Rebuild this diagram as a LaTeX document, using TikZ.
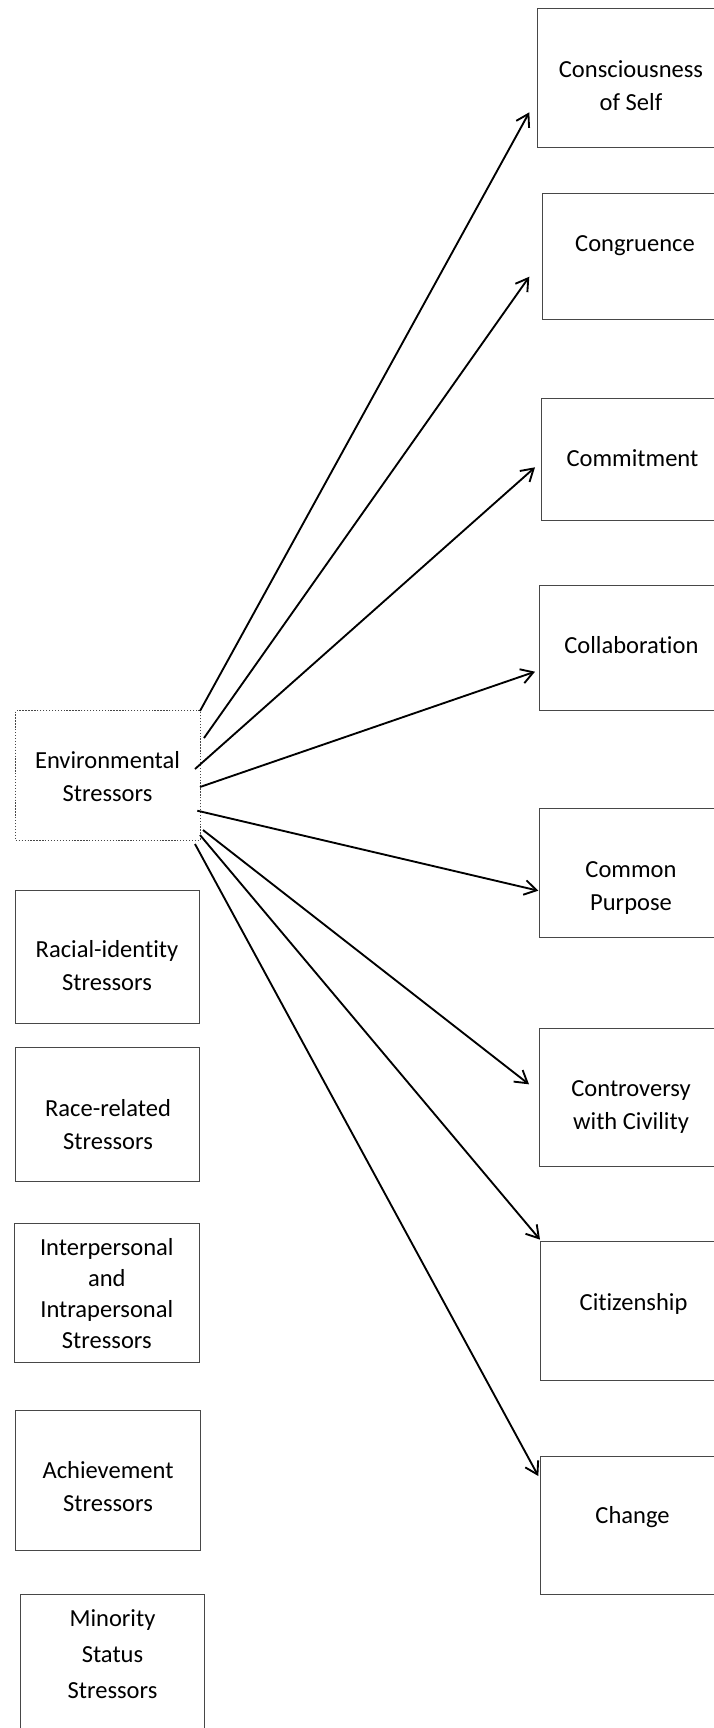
\documentclass[tikz,border=0pt]{standalone}
\usepackage{fontspec}
\setmainfont{Carlito}[Ligatures=NoCommon]
\usetikzlibrary{arrows.meta}
\begin{document}
\begin{tikzpicture}[x=0.75pt,y=-0.75pt,
  box/.style={draw=black!72,line width=0.75pt,inner sep=0pt,rectangle},
  dotbox/.style={box,dash pattern=on 1pt off 1.2pt},
  lbl/.style={inner sep=0pt,anchor=north,align=center,
    font=\fontsize{18.4pt}{24.75pt}\selectfont},
  arr/.style={line width=1.4pt,-{Straight Barb[length=9pt,width=11pt,line width=1.4pt]}}]
\useasboundingbox (0,0) rectangle (714,1728);

% outcome boxes on the right (they run past the right margin)
\node[box,minimum width=141pt,minimum height=104.25pt] (r1) at (631,77.5) {};
\node[box,minimum width=137.25pt,minimum height=94.5pt] (r2) at (633.5,256) {};
\node[box,minimum width=138pt,minimum height=91.5pt] (r3) at (633,459) {};
\node[box,minimum width=139.5pt,minimum height=94.2pt] (r4) at (632,648) {};
\node[box,minimum width=139.5pt,minimum height=96.75pt] (r5) at (632,873) {};
\node[box,minimum width=139.5pt,minimum height=103.5pt] (r6) at (632,1097) {};
\node[box,minimum width=138.75pt,minimum height=104.25pt] (r7) at (632.5,1311) {};
\node[box,minimum width=138.75pt,minimum height=103.5pt] (r8) at (632.5,1525) {};

\node[lbl] (t1) at (631,54.2) {\strut Consciousness\\of Self};
\node[lbl] (t2) at (635,227.9) {\strut Congruence};
\node[lbl] (t3) at (632.5,442.9) {\strut Commitment};
\node[lbl] (t4) at (631.4,629.9) {\strut Collaboration};
\node[lbl] (t5) at (631,853.9) {\strut Common\\Purpose};
\node[lbl] (t6) at (631,1072.9) {\strut Controversy\\with Civility};
\node[lbl] (t7) at (633.6,1286.9) {\strut Citizenship};
\node[lbl] (t8) at (632.5,1499.9) {\strut Change};

% stressor boxes on the left
\node[dotbox,minimum width=138.2pt,minimum height=97pt] (env) at (107.9,775.4) {};
\node[box,minimum width=138pt,minimum height=100pt] (l2) at (107.4,957) {};
\node[box,minimum width=138pt,minimum height=100pt] (l3) at (107.4,1114.5) {};
\node[box,minimum width=138.5pt,minimum height=104.5pt] (l4) at (106.7,1293) {};
\node[box,minimum width=138.75pt,minimum height=105pt] (l5) at (108,1480.4) {};
\node[box,minimum width=137.7pt,minimum height=109.5pt] (l6) at (112.5,1667) {};

\node[lbl] (s1) at (107.5,745.2) {\strut Environmental\\Stressors};
\node[lbl] (s2) at (107,933.9) {\strut Racial-identity\\Stressors};
\node[lbl] (s3) at (108,1092.9) {\strut Race-related\\Stressors};
\node[lbl,font=\fontsize{18.4pt}{23.25pt}\selectfont] (s4) at (106.8,1233.3)
  {\strut Interpersonal\\and\\Intrapersonal\\Stressors};
\node[lbl] (s5) at (108,1455.4) {\strut Achievement\\Stressors};
\node[lbl,font=\fontsize{18.4pt}{27pt}\selectfont] (s6) at (112.5,1601.5)
  {\strut Minority\\Status\\Stressors};

% arrow ends
\coordinate (a1) at (200,711);   \coordinate (b1) at (529.3,112.3);
\coordinate (a2) at (204,738);   \coordinate (b2) at (529.3,276.7);
\coordinate (a3) at (195,769);   \coordinate (b3) at (535,467.3);
\coordinate (a4) at (200,787);   \coordinate (b4) at (535,671.7);
\coordinate (a5) at (197.3,810.7); \coordinate (b5) at (538.3,890.7);
\coordinate (a6) at (203,830);   \coordinate (b6) at (529,1084.3);
\coordinate (a7) at (200,835);   \coordinate (b7) at (540,1239.6);
\coordinate (a8) at (195,844);   \coordinate (b8) at (538.3,1476);

\foreach \i in {1,...,8} \draw[arr] (a\i) -- (b\i);
\end{tikzpicture}
\end{document}
